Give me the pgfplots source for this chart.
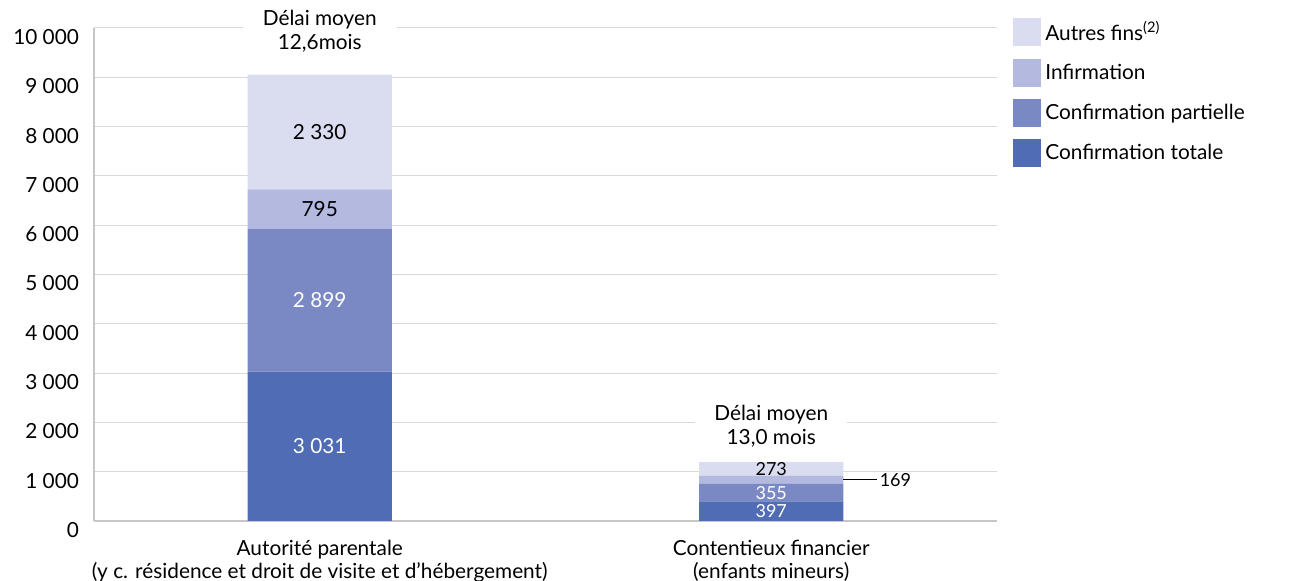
\documentclass[border=0pt]{standalone}
\usepackage{fontspec}
\setmainfont{Lato}
\usepackage{pgfplots}
\pgfplotsset{compat=1.18}
\definecolor{c1}{RGB}{79,108,180}
\definecolor{c2}{RGB}{122,137,196}
\definecolor{c3}{RGB}{179,185,223}
\definecolor{c4}{RGB}{218,221,240}
\pgfplotsset{sq legend/.style={legend image code/.code={\fill[##1] (0pt,-7pt) rectangle (14pt,7pt);}}}
\begin{document}
\begin{tikzpicture}[font=\fontsize{10.4}{12}\selectfont]
\path[use as bounding box] (-47pt,-30pt) rectangle (599pt,260.5pt);
\begin{axis}[
  at={(0,0)}, anchor=south west,
  scale only axis, width=451.5pt, height=246.5pt,
  clip=false,
  ybar stacked, bar width=0.32,
  xmin=-0.5, xmax=1.5, ymin=0, ymax=10000,
  xtick={0,1},
  xticklabels={{Autorité parentale\\(y c. résidence et droit de visite et d'hébergement)},{Contentieux financier\\(enfants mineurs)}},
  xticklabel style={align=center, yshift=-6pt, font=\fontsize{10.4}{11.5}\selectfont},
  ytick={0,1000,...,10000},
  scaled y ticks=false,
  yticklabel style={yshift=-4.5pt, xshift=-4pt, font=\fontsize{10.4}{12}\selectfont},
  /pgf/number format/assume math mode=true,
  /pgf/number format/1000 sep={\ },
  major tick length=0,
  axis x line*=bottom, axis y line*=left,
  axis line style={draw=gray!45, line width=0.6pt, -},
  ymajorgrids, grid style={draw=gray!30, line width=0.5pt},
  reverse legend,
  legend style={at={(1.011,1.03)}, anchor=north west, draw=none, fill=none, row sep=6pt, font=\fontsize{10.4}{12}\selectfont, /tikz/every even column/.append style={column sep=6pt}},
  legend cell align=left,
]
\addplot[fill=c1, draw=none, sq legend] coordinates {(0,3031) (1,397)};
\addlegendentry{Confirmation totale}
\addplot[fill=c2, draw=none, sq legend] coordinates {(0,2899) (1,355)};
\addlegendentry{Confirmation partielle}
\addplot[fill=c3, draw=none, sq legend] coordinates {(0,795) (1,169)};
\addlegendentry{Infirmation}
\addplot[fill=c4, draw=none, sq legend] coordinates {(0,2330) (1,273)};
\addlegendentry{Autres fins\textsuperscript{(2)}}

\coordinate (a1) at (axis cs:0,1515.5);
\coordinate (a2) at (axis cs:0,4480.5);
\coordinate (a3) at (axis cs:0,6327.5);
\coordinate (a4) at (axis cs:0,7890);
\coordinate (b1) at (axis cs:1,198.5);
\coordinate (b2) at (axis cs:1,574.5);
\coordinate (b3) at (axis cs:1,836.5);
\coordinate (b3e) at (axis cs:1.16,836.5);
\coordinate (b3l) at (axis cs:1.235,836.5);
\coordinate (b4) at (axis cs:1,1057.5);
\coordinate (d1) at (axis cs:0,9939);
\coordinate (d2) at (axis cs:1,1927);
\end{axis}
\node[text=white] at (a1) {3 031};
\node[text=white] at (a2) {2 899};
\node[text=black] at (a3) {795};
\node[text=black] at (a4) {2 330};
\begin{scope}[font=\fontsize{9}{10}\selectfont]
\node[text=white, inner sep=0pt] at (b1) {397};
\node[text=white, inner sep=0pt] at (b2) {355};
\node[text=black, inner sep=0pt] at (b4) {273};
\draw[black, line width=0.5pt] (b3e) -- (b3l);
\node[anchor=west, inner sep=1pt] at (b3l) {169};
\end{scope}
\node[fill=white, align=center, minimum width=77pt, inner sep=1pt] at (d1) {Délai moyen\\12,6mois};
\node[fill=white, align=center, minimum width=76pt, inner sep=1pt] at (d2) {Délai moyen\\13,0 mois};
\end{tikzpicture}
\end{document}
